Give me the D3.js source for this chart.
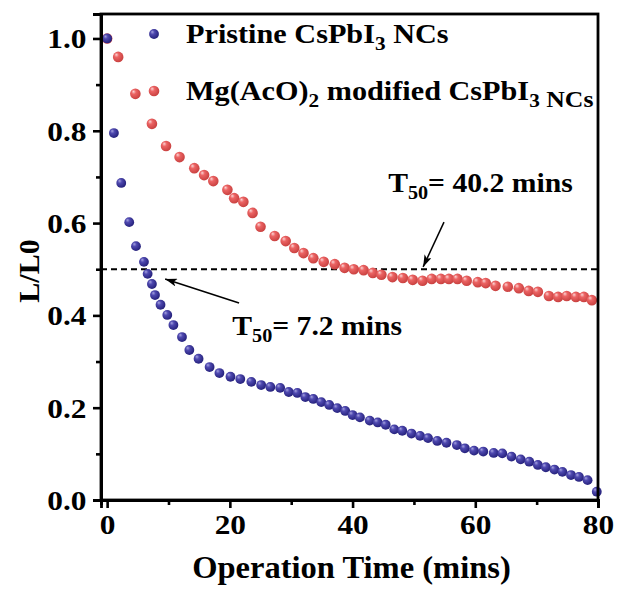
<!DOCTYPE html>
<html>
<head>
<meta charset="utf-8">
<script src="https://cdn.jsdelivr.net/npm/d3@7"></script>
<style>
  html, body { margin: 0; padding: 0; background: #fff; }
  svg { display: block; }
  text { font-family: "Liberation Serif", "Times New Roman", serif; font-weight: bold; fill: #000; }
</style>
</head>
<body>
<svg id="chart" width="617" height="590"></svg>
<script>
// ---- data ----
const pristineTime = [0, 1.1, 2.3, 3.6, 4.7, 6.0, 6.6, 7.3, 7.8, 8.7, 9.8, 10.8, 12.2, 13.4, 14.9,
  16.7, 18.3, 20.1, 21.7, 23.5, 25.1, 26.6, 28.2, 29.6, 31.0, 32.3, 33.6, 34.9, 36.2, 37.5,
  38.8, 40.0, 41.2, 42.8, 44.1, 45.4, 46.8, 48.1, 49.6, 51.0, 52.3, 53.8, 55.3, 57.0, 58.3,
  59.8, 61.3, 63.0, 64.4, 65.9, 67.4, 68.8, 70.2, 71.5, 72.9, 74.2, 75.6, 76.9, 78.3, 79.8];
const pristineL = [1.0, 0.795, 0.687, 0.602, 0.550, 0.516, 0.490, 0.468, 0.444, 0.423, 0.401, 0.379, 0.353, 0.325, 0.306,
  0.288, 0.275, 0.267, 0.262, 0.256, 0.249, 0.245, 0.243, 0.234, 0.232, 0.223, 0.219, 0.212, 0.206, 0.199,
  0.193, 0.184, 0.179, 0.172, 0.168, 0.163, 0.153, 0.150, 0.144, 0.139, 0.134, 0.128, 0.124, 0.119, 0.112,
  0.107, 0.105, 0.102, 0.101, 0.094, 0.088, 0.083, 0.076, 0.071, 0.066, 0.061, 0.054, 0.050, 0.043, 0.018];
const modifiedTime = [0, 1.8, 4.6, 7.3, 9.6, 11.8, 14.2, 15.8, 17.3, 19.6, 20.7, 22.2, 23.7, 25.0, 27.3,
  29.1, 30.5, 32.0, 33.6, 35.3, 37.1, 38.7, 40.2, 41.8, 43.3, 44.7, 46.5, 48.2, 49.8, 51.4,
  52.9, 54.4, 55.7, 57.1, 58.6, 60.4, 61.7, 63.3, 65.3, 67.1, 68.7, 70.2, 72.0, 73.5, 74.9,
  76.4, 77.7, 79.0];
const modifiedL = [1.0, 0.960, 0.880, 0.815, 0.767, 0.743, 0.719, 0.704, 0.691, 0.672, 0.654, 0.646, 0.622, 0.592, 0.572,
  0.561, 0.546, 0.535, 0.524, 0.516, 0.511, 0.503, 0.500, 0.498, 0.492, 0.488, 0.483, 0.481, 0.477, 0.475,
  0.479, 0.479, 0.479, 0.479, 0.475, 0.472, 0.470, 0.464, 0.462, 0.459, 0.453, 0.451, 0.442, 0.440, 0.442,
  0.440, 0.440, 0.433];
const xTicks = [0, 20, 40, 60, 80];
const xMinor = [10, 30, 50, 70];
const yTicks = [0.0, 0.2, 0.4, 0.6, 0.8, 1.0];
const yMinor = [0.1, 0.3, 0.5, 0.7, 0.9];
const halfLevel = 0.5;
const t50Pristine = 7.2;
const t50Modified = 40.2;

// ---- layout ----
const svg = d3.select("#chart");
const L = 101, R = 598, T = 14, B = 500;
const SX = 1.12; // horizontal stretch of reference text
const x = d3.scaleLinear().domain([-1, 80]).range([L, R]);
const y = d3.scaleLinear().domain([0, 1.053]).range([B, T]);

const defs = svg.append("defs");
function ball(id, hi, mid, edge) {
  const g = defs.append("radialGradient").attr("id", id)
    .attr("cx", "40%").attr("cy", "40%").attr("r", "62%").attr("fx", "32%").attr("fy", "28%");
  g.append("stop").attr("offset", "0%").attr("stop-color", hi);
  g.append("stop").attr("offset", "35%").attr("stop-color", mid);
  g.append("stop").attr("offset", "100%").attr("stop-color", edge);
}
ball("gRed", "#fbd4d4", "#ec6464", "#c8403f");
ball("gBlue", "#a6a3e0", "#4f49b0", "#24207a");
defs.append("marker").attr("id", "arrow").attr("viewBox", "0 0 12 8")
  .attr("refX", 12).attr("refY", 4).attr("markerWidth", 12).attr("markerHeight", 8)
  .attr("markerUnits", "userSpaceOnUse").attr("orient", "auto")
  .append("path").attr("d", "M0,0 L12,4 L0,8 L3,4 Z").attr("fill", "#000");

// dashed half line
svg.append("line")
  .attr("x1", L).attr("x2", R).attr("y1", y(halfLevel)).attr("y2", y(halfLevel))
  .attr("stroke", "#000").attr("stroke-width", 2).attr("stroke-dasharray", "6,4");

// points
const pristine = pristineTime.map((t, i) => [t, pristineL[i]]);
const modified = modifiedTime.map((t, i) => [t, modifiedL[i]]);
svg.append("g").selectAll("circle").data(modified).join("circle")
  .attr("cx", d => x(d[0])).attr("cy", d => y(d[1])).attr("r", 5.3).attr("fill", "url(#gRed)");
svg.append("g").selectAll("circle").data(pristine).join("circle")
  .attr("cx", d => x(d[0])).attr("cy", d => y(d[1])).attr("r", 4.9).attr("fill", "url(#gBlue)");

// frame
svg.append("rect").attr("x", L).attr("y", T).attr("width", R - L).attr("height", B - T)
  .attr("fill", "none").attr("stroke", "#000").attr("stroke-width", 2.8);

// axes
const xAxis = svg.append("g").attr("transform", `translate(0,${B})`)
  .call(d3.axisBottom(x).tickValues(xTicks).tickSize(8).tickPadding(6).tickFormat(d3.format("d")));
svg.append("g").attr("transform", `translate(0,${B})`)
  .call(d3.axisBottom(x).tickValues(xMinor).tickSize(5).tickFormat(""));
const yAxis = svg.append("g").attr("transform", `translate(${L},0)`)
  .call(d3.axisLeft(y).tickValues(yTicks).tickSize(8).tickPadding(5).tickFormat(d3.format(".1f")));
svg.append("g").attr("transform", `translate(${L},0)`)
  .call(d3.axisLeft(y).tickValues(yMinor).tickSize(5).tickFormat(""));
svg.selectAll(".domain").attr("stroke", "#000").attr("stroke-width", 2.8);
svg.selectAll(".tick line").attr("stroke", "#000").attr("stroke-width", 2.6);
svg.selectAll(".tick text").style("font-family", "'Liberation Serif', serif")
  .style("font-weight", "bold").style("font-size", "28px").attr("fill", "#000");
xAxis.selectAll(".tick text").attr("transform", `scale(${SX},1)`).attr("dy", "0.72em");
yAxis.selectAll(".tick text").attr("transform", `scale(${SX},1)`).attr("dy", "0.34em");

// helper for stretched text
function stext(px, py, size, anchor, sx) {
  return svg.append("text").attr("transform", `translate(${px},${py}) scale(${sx || SX},1)`)
    .attr("text-anchor", anchor || "start").style("font-size", size + "px");
}

// axis titles
stext((L + R) / 2 + 2, 578, 31, "middle", 1.05).text("Operation Time (mins)");
svg.append("text").attr("transform", `translate(39,${(T + B) / 2 + 14}) rotate(-90)`)
  .attr("text-anchor", "middle").style("font-size", "30px").text("L/L0");

// legend
const lg = [{ y: 34, grad: "gBlue", r: 4.9 }, { y: 91, grad: "gRed", r: 5.3 }];
svg.append("g").selectAll("circle").data(lg).join("circle")
  .attr("cx", 154).attr("cy", d => d.y).attr("r", d => d.r).attr("fill", d => `url(#${d.grad})`);
const t1 = stext(186, 43, 27);
t1.append("tspan").text("Pristine CsPbI");
t1.append("tspan").attr("dy", 7).style("font-size", "19px").text("3");
t1.append("tspan").attr("dy", -7).text(" NCs");
const t2 = stext(186, 100, 27);
t2.append("tspan").text("Mg(AcO)");
t2.append("tspan").attr("dy", 7).style("font-size", "19px").text("2");
t2.append("tspan").attr("dy", -7).text(" modified CsPbI");
t2.append("tspan").attr("dy", 7).style("font-size", "19px").text("3");
t2.append("tspan").style("font-size", "23px").text(" NCs");

// annotations
function t50Label(tx, ty, value) {
  const t = stext(x(tx), y(ty), 26.5);
  t.append("tspan").text("T");
  t.append("tspan").attr("dy", 7).style("font-size", "18px").text("50");
  t.append("tspan").attr("dy", -7).text("= " + value + " mins");
}
t50Label(45.8, 0.667, t50Modified);
t50Label(20.4, 0.357, t50Pristine);
const arrows = [
  { from: [21.5, 0.427], to: [9.45, 0.479] },
  { from: [54.9, 0.602], to: [51.5, 0.505] }
];
svg.append("g").selectAll("line").data(arrows).join("line")
  .attr("x1", d => x(d.from[0])).attr("y1", d => y(d.from[1]))
  .attr("x2", d => x(d.to[0])).attr("y2", d => y(d.to[1]))
  .attr("stroke", "#000").attr("stroke-width", 1.5).attr("marker-end", "url(#arrow)");
</script>
</body>
</html>
